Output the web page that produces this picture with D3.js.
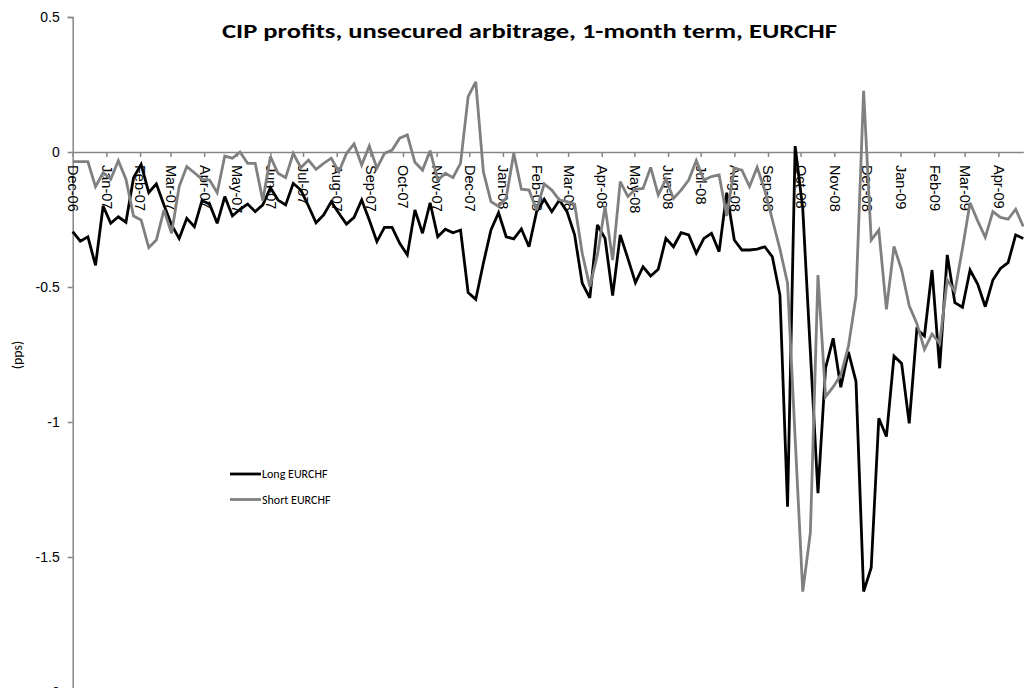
<!DOCTYPE html>
<html>
<head>
<meta charset="utf-8">
<script src="https://cdn.jsdelivr.net/npm/d3@7"></script>
<style>
    body { margin: 0; background: #fff; }
    svg { display: block; font-family: Carlito, Calibri, "Liberation Sans", Arial, sans-serif; }
</style>
</head>
<body>
<svg id="chart"></svg>
<script>
// weekly observations, first one on 1 Dec 2006
const startDate = new Date(2006, 11, 1);

const longEURCHF = [
    -0.295, -0.33, -0.314, -0.42, -0.20, -0.264, -0.24, -0.26, -0.095, -0.046,
    -0.15, -0.118, -0.196, -0.27, -0.32, -0.246, -0.277, -0.18, -0.193, -0.264,
    -0.165, -0.237, -0.212, -0.193, -0.221, -0.196, -0.132, -0.178, -0.196, -0.116,
    -0.141, -0.2, -0.262, -0.233, -0.184, -0.227, -0.267, -0.242, -0.178, -0.252,
    -0.332, -0.279, -0.279, -0.338, -0.381, -0.215, -0.301, -0.188, -0.314, -0.286,
    -0.299, -0.289, -0.521, -0.546, -0.412, -0.289, -0.225, -0.314, -0.322, -0.285,
    -0.351, -0.221, -0.175, -0.221, -0.178, -0.221, -0.307, -0.486, -0.54, -0.27,
    -0.32, -0.532, -0.307, -0.394, -0.484, -0.425, -0.459, -0.434, -0.32, -0.351,
    -0.299, -0.307, -0.375, -0.32, -0.301, -0.369, -0.151, -0.326, -0.363, -0.363,
    -0.36, -0.351, -0.388, -0.53, -1.314, 0.022, -0.21, -0.74, -1.264, -0.80,
    -0.69, -0.871, -0.74, -0.85, -1.628, -1.54, -0.986, -1.054, -0.756, -0.783,
    -1.005, -0.657, -0.681, -0.437, -0.801, -0.381, -0.558, -0.575, -0.437, -0.489,
    -0.573, -0.474, -0.431, -0.41, -0.307, -0.32
];

const shortEURCHF = [
    -0.036, -0.036, -0.036, -0.128, -0.077, -0.101, -0.032, -0.101, -0.237, -0.252,
    -0.354, -0.326, -0.215, -0.301, -0.128, -0.054, -0.077, -0.101, -0.104, -0.151,
    -0.015, -0.023, 0.0, -0.042, -0.042, -0.18, -0.017, -0.079, -0.095, -0.005,
    -0.058, -0.03, -0.064, -0.042, -0.023, -0.073, -0.005, 0.03, -0.048, 0.022,
    -0.06, -0.005, 0.007, 0.051, 0.063, -0.038, -0.067, 0.005, -0.104, -0.079,
    -0.095, -0.042, 0.205, 0.26, -0.073, -0.184, -0.202, -0.17, -0.005, -0.138,
    -0.141, -0.215, -0.118, -0.141, -0.178, -0.184, -0.193, -0.375, -0.499, -0.381,
    -0.202, -0.40, -0.11, -0.165, -0.138, -0.135, -0.057, -0.159, -0.101, -0.172,
    -0.141, -0.104, -0.032, -0.104, -0.091, -0.085, -0.237, -0.06, -0.067, -0.128,
    -0.057, -0.141, -0.25, -0.36, -0.486, -1.06, -1.628, -1.41, -0.456, -0.906,
    -0.87, -0.826, -0.72, -0.536, 0.227, -0.326, -0.289, -0.583, -0.35, -0.437,
    -0.57, -0.635, -0.731, -0.674, -0.709, -0.474, -0.517, -0.357, -0.188, -0.255,
    -0.316, -0.221, -0.242, -0.249, -0.212, -0.276
];

const yTicks = [0.5, 0, -0.5, -1, -1.5, -2];
const seriesNames = ["Long EURCHF", "Short EURCHF"];
const seriesColors = ["#000000", "#808080"];

const dates = longEURCHF.map((d, i) => d3.timeDay.offset(startDate, 7 * i));

const width = 1024, height = 688;
const axisColor = "#868686";

let svg = d3.select("#chart")
    .attr("width", width)
    .attr("height", height);

let x = d3.scaleTime()
    .domain([dates[0], dates[dates.length - 1]])
    .range([72.7, 1023.3]);

let y = d3.scaleLinear()
    .domain([-2, 0.5])
    .range([692, 17]);

// y axis
let yAxis = svg.append("g")
    .attr("transform", "translate(" + x.range()[0] + ",0)")
    .call(d3.axisLeft(y).tickValues(yTicks).tickSize(5).tickPadding(8).tickFormat(d3.format("")));
yAxis.select(".domain").attr("stroke", axisColor).attr("stroke-width", 1.5);
yAxis.selectAll(".tick line").attr("stroke", axisColor).attr("stroke-width", 1.5);
yAxis.selectAll(".tick text")
    .attr("fill", "#000")
    .style("font-size", "14px")
    .text(d => d === 0 ? "0" : String(d).replace("−", "-"));

// x axis sits on y = 0
let months = d3.timeMonth.range(startDate, d3.timeDay.offset(dates[dates.length - 1], 1));
let xAxis = svg.append("g")
    .attr("transform", "translate(0," + y(0) + ")")
    .call(d3.axisBottom(x).tickValues(months).tickSize(5).tickSizeOuter(0).tickFormat(d3.timeFormat("%b-%y")));
xAxis.select(".domain").attr("stroke", axisColor).attr("stroke-width", 1.5);
xAxis.selectAll(".tick line").attr("stroke", axisColor).attr("stroke-width", 1.5);
xAxis.selectAll(".tick text")
    .attr("fill", "#000")
    .style("font-size", "14.5px")
    .attr("text-anchor", "start")
    .attr("transform", "translate(0,13) rotate(90)")
    .attr("x", 0)
    .attr("y", 0)
    .attr("dy", "0.35em");

// series lines, short drawn last
let line = d3.line()
    .x((d, i) => x(dates[i]))
    .y(d => y(d));

[longEURCHF, shortEURCHF].forEach((s, k) => {
    svg.append("path")
        .datum(s)
        .attr("fill", "none")
        .attr("stroke", seriesColors[k])
        .attr("stroke-width", 2.8)
        .attr("stroke-linejoin", "miter")
        .attr("stroke-miterlimit", 3)
        .attr("d", line);
});

// title
svg.append("text")
    .attr("x", 529.5)
    .attr("y", 38)
    .attr("text-anchor", "middle")
    .attr("textLength", 615)
    .attr("lengthAdjust", "spacingAndGlyphs")
    .style("font-size", "21px")
    .style("font-weight", "bold")
    .text("CIP profits, unsecured arbitrage, 1-month term, EURCHF");

// y axis title
svg.append("text")
    .attr("transform", "translate(22,355) rotate(-90)")
    .attr("text-anchor", "middle")
    .style("font-size", "14px")
    .text("(pps)");

// legend
let legend = svg.append("g");
seriesNames.forEach((name, k) => {
    let ly = 474 + k * 25.5;
    legend.append("line")
        .attr("x1", 230).attr("x2", 261)
        .attr("y1", ly).attr("y2", ly)
        .attr("stroke", seriesColors[k])
        .attr("stroke-width", 2.8);
    legend.append("text")
        .attr("x", 262)
        .attr("y", ly)
        .attr("dy", "0.35em")
        .style("font-size", "12px")
        .text(name);
});
</script>
</body>
</html>
